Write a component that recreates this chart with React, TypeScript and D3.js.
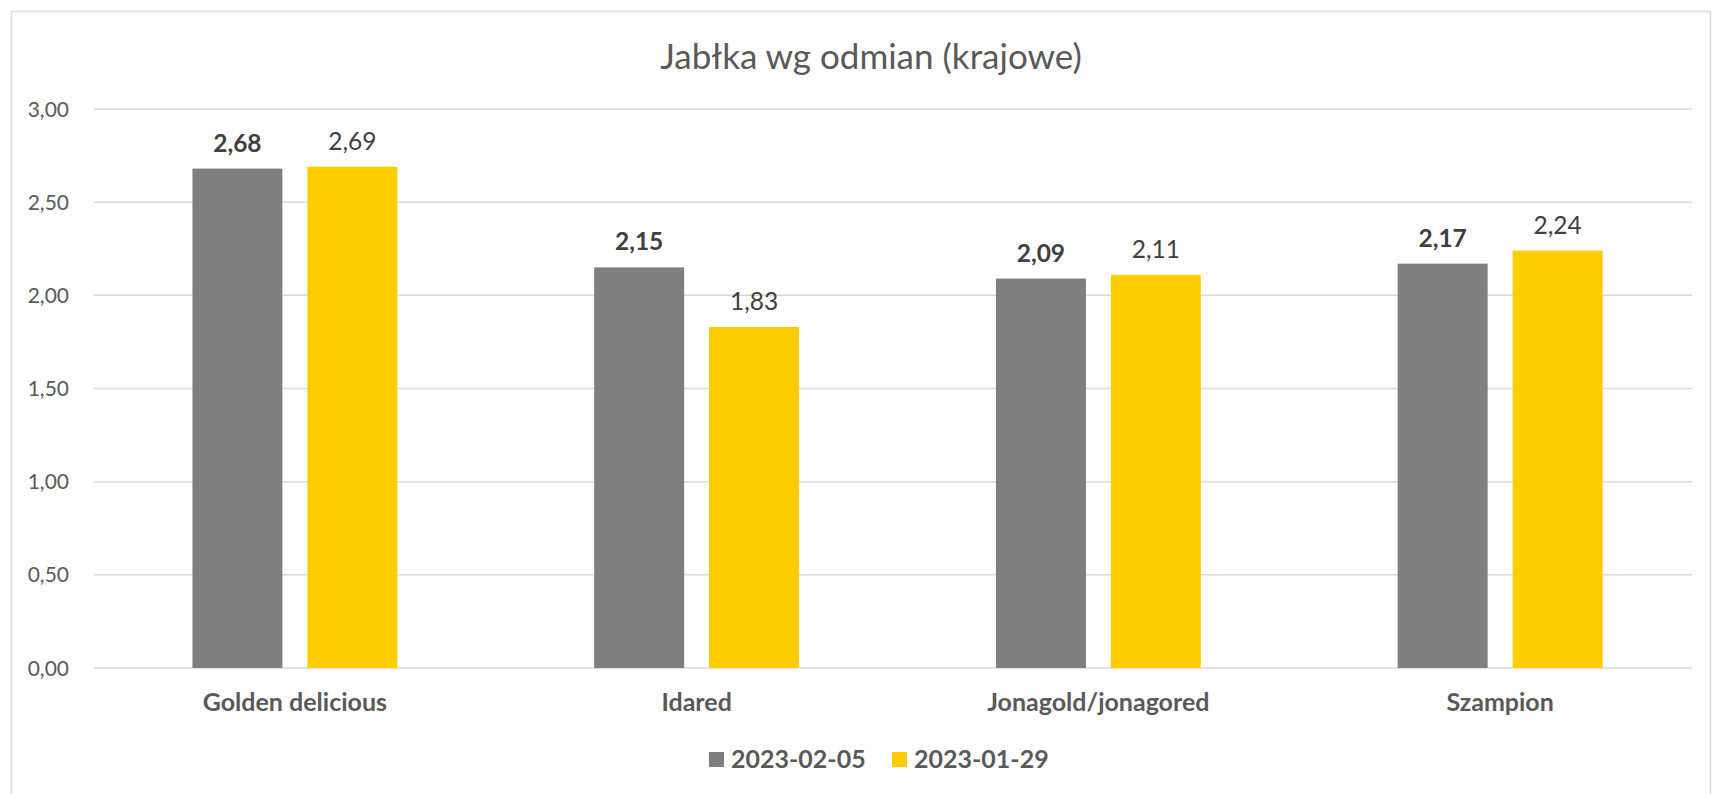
import * as d3 from "d3";
import { useRef, useEffect } from "react";

const WIDTH = 1713;
const HEIGHT = 794;
const MARGIN = { top: 109, right: 12, bottom: 126, left: 94 };

const categories = ["Golden delicious", "Idared", "Jonagold/jonagored", "Szampion"];
const seriesNames = ["2023-02-05", "2023-01-29"];
const valuesFeb05 = [2.68, 2.15, 2.09, 2.17];
const valuesJan29 = [2.69, 1.83, 2.11, 2.24];
const yTicks = [0, 0.5, 1, 1.5, 2, 2.5, 3];
const colors = ["#7f7f7f", "#ffcc00"];

const FONT = "Lato, 'Open Sans', sans-serif";
const fmt = (v: number) => v.toFixed(2).replace(".", ",");

const App = () => {
  const svgRef = useRef(null);

  useEffect(() => {
    document.body.style.margin = "0";
    const svg = d3.select(svgRef.current);
    svg.selectAll("*").remove(); // Clear previous render

    const innerRight = WIDTH - MARGIN.right;
    const innerBottom = HEIGHT - MARGIN.bottom;

    const x0 = d3
      .scaleBand()
      .domain(categories)
      .range([MARGIN.left, innerRight])
      .paddingInner(0.49)
      .paddingOuter(0.245);

    const x1 = d3
      .scaleBand()
      .domain(seriesNames)
      .range([0, x0.bandwidth()])
      .paddingInner(0.217);

    const y = d3.scaleLinear().domain([0, 3]).range([innerBottom, MARGIN.top]);

    // Chart frame
    svg
      .append("rect")
      .attr("x", 11.5)
      .attr("y", 11.5)
      .attr("width", 1699)
      .attr("height", 800)
      .attr("fill", "white")
      .attr("stroke", "#d9d9d9")
      .attr("stroke-width", 1.5);

    // Title
    svg
      .append("text")
      .attr("x", 871)
      .attr("y", 69)
      .attr("text-anchor", "middle")
      .attr("fill", "#595959")
      .style("font-family", FONT)
      .style("font-size", "35px")
      .text("Jabłka wg odmian (krajowe)");

    // Gridlines + y axis labels
    const grid = svg.append("g");
    grid
      .selectAll("line")
      .data(yTicks)
      .enter()
      .append("line")
      .attr("x1", MARGIN.left)
      .attr("x2", innerRight - 9)
      .attr("y1", (d) => y(d))
      .attr("y2", (d) => y(d))
      .attr("stroke", "#d9d9d9")
      .attr("stroke-width", 1.5);

    grid
      .selectAll("text")
      .data(yTicks)
      .enter()
      .append("text")
      .attr("x", 69)
      .attr("y", (d) => y(d))
      .attr("dy", "0.36em")
      .attr("text-anchor", "end")
      .attr("fill", "#595959")
      .style("font-family", FONT)
      .style("font-size", "21px")
      .text((d) => fmt(d));

    const seriesValues = [valuesFeb05, valuesJan29];

    // Bars
    seriesNames.forEach((name, si) => {
      const g = svg.append("g");
      const data = categories.map((c, i) => ({ c, v: seriesValues[si][i] }));

      g.selectAll("rect")
        .data(data)
        .enter()
        .append("rect")
        .attr("x", (d) => x0(d.c)! + x1(name)!)
        .attr("y", (d) => y(d.v))
        .attr("width", x1.bandwidth())
        .attr("height", (d) => y(0) - y(d.v))
        .attr("fill", colors[si]);

      // Data labels
      g.selectAll("text")
        .data(data)
        .enter()
        .append("text")
        .attr("x", (d) => x0(d.c)! + x1(name)! + x1.bandwidth() / 2)
        .attr("y", (d) => y(d.v) - 17)
        .attr("text-anchor", "middle")
        .attr("fill", "#404040")
        .style("font-family", FONT)
        .style("font-size", "24.5px")
        .style("font-weight", si === 0 ? "bold" : "normal")
        .text((d) => fmt(d.v));
    });

    // Category labels
    svg
      .append("g")
      .selectAll("text")
      .data(categories)
      .enter()
      .append("text")
      .attr("x", (d) => x0(d)! + x0.bandwidth() / 2)
      .attr("y", 711)
      .attr("text-anchor", "middle")
      .attr("fill", "#595959")
      .style("font-family", FONT)
      .style("font-size", "25px")
      .style("font-weight", "bold")
      .text((d) => d);

    // Legend
    const legendX = [709, 892];
    const legend = svg.append("g");
    seriesNames.forEach((name, i) => {
      legend
        .append("rect")
        .attr("x", legendX[i])
        .attr("y", 752)
        .attr("width", 15)
        .attr("height", 15)
        .attr("fill", colors[i]);
      legend
        .append("text")
        .attr("x", legendX[i] + 22)
        .attr("y", 768)
        .attr("fill", "#595959")
        .style("font-family", FONT)
        .style("font-size", "25px")
        .style("font-weight", "bold")
        .text(name);
    });
  }, []);

  return (
    <svg
      ref={svgRef}
      width={WIDTH}
      height={HEIGHT}
      style={{ display: "block" }}
    />
  );
};

export default App;
